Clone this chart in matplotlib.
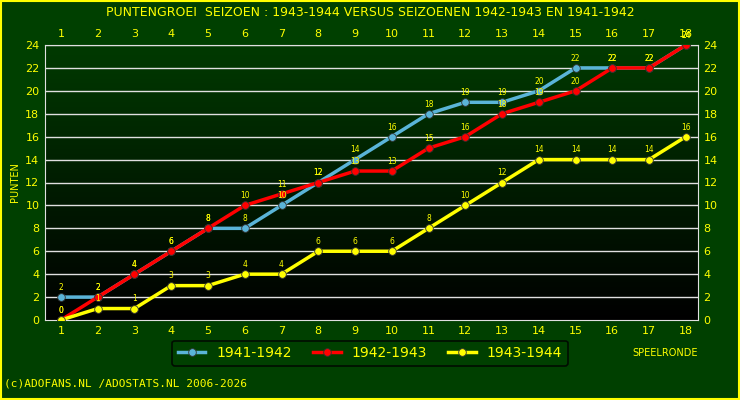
import matplotlib
matplotlib.use("Agg")
import matplotlib.pyplot as plt
import numpy as np
from matplotlib.patches import Rectangle

rounds = list(range(1, 19))
pts_4142 = [2, 2, 4, 6, 8, 8, 10, 12, 14, 16, 18, 19, 19, 20, 22, 22, 22, 24]
pts_4243 = [0, 2, 4, 6, 8, 10, 11, 12, 13, 13, 15, 16, 18, 19, 20, 22, 22, 24]
pts_4344 = [0, 1, 1, 3, 3, 4, 4, 6, 6, 6, 8, 10, 12, 14, 14, 14, 14, 16]

BG = "#004000"
YEL = "#ffff00"
series = [("1941-1942", pts_4142, "#5ab4d8"),
          ("1942-1943", pts_4243, "#ff0000"),
          ("1943-1944", pts_4344, "#ffff00")]

fig = plt.figure(figsize=(7.4, 4.0), dpi=100, facecolor=BG)
fig.patches.append(Rectangle((0.002, 0.003), 0.996, 0.994, transform=fig.transFigure,
                             fill=False, edgecolor=YEL, lw=1.5))
ax = fig.add_axes([0.0608, 0.2, 0.8824, 0.6875])
ax.set_xlim(0.565, 18.33)
ax.set_ylim(0, 24)

# dark green -> black gradient
grad = np.linspace(0, 1, 256).reshape(-1, 1)
from matplotlib.colors import LinearSegmentedColormap
cmap = LinearSegmentedColormap.from_list("g", ["#000000", "#003a00"])
ax.imshow(grad, cmap=cmap, aspect="auto", origin="lower",
          extent=(0.565, 18.33, 0, 24), zorder=0)

for y in range(2, 25, 2):
    ax.axhline(y, color="#e0e0e0", lw=1, zorder=1)

for label, vals, col in series:
    ax.plot(rounds, vals, color=col, lw=2.5, marker="o", ms=5.5,
            markeredgecolor="#333333", markeredgewidth=0.6, label=label, zorder=3)
    for x, v in zip(rounds, vals):
        ax.text(x, v + 0.45, str(v), color=YEL, fontsize=5.5, ha="center",
                va="bottom", zorder=4)

for s in ax.spines.values():
    s.set_color("#e0e0e0")
ax.set_xticks(rounds)
ax.set_yticks(range(0, 25, 2))
ax.tick_params(colors=YEL, labelsize=8, length=0, pad=4,
               top=True, labeltop=True, right=True, labelright=True)
ax.set_ylabel("PUNTEN", color=YEL, fontsize=7)

fig.text(0.5, 0.97, "PUNTENGROEI  SEIZOEN : 1943-1944 VERSUS SEIZOENEN 1942-1943 EN 1941-1942",
         color=YEL, fontsize=9, ha="center", va="center")
fig.text(0.855, 0.118, "SPEELRONDE", color=YEL, fontsize=7, ha="left", va="center")
fig.text(0.005, 0.04, "(c)ADOFANS.NL /ADOSTATS.NL 2006-2026", color=YEL,
         fontsize=8, family="DejaVu Sans Mono", ha="left", va="center")

leg = fig.legend(loc="center", bbox_to_anchor=(0.5, 0.117), ncol=3, frameon=True,
                 fontsize=10, handlelength=2, columnspacing=1.5,
                 facecolor=BG, edgecolor="#000000")
for t in leg.get_texts():
    t.set_color(YEL)
leg.get_frame().set_linewidth(1.2)

fig.savefig("out.png", dpi=100, facecolor=BG)
